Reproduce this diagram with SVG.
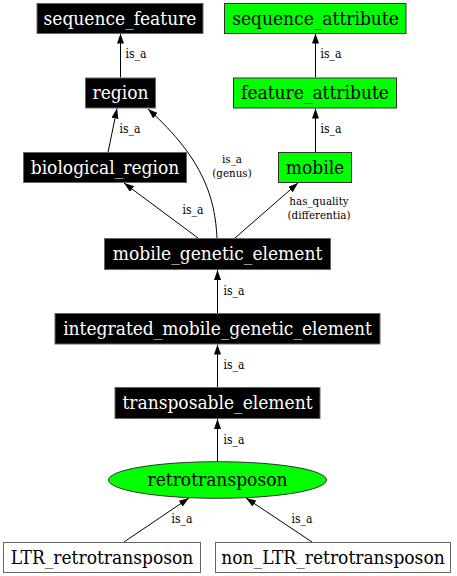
<svg xmlns="http://www.w3.org/2000/svg" width="457" height="576" viewBox="0 0 457 576">
<style>
.blk rect{fill:#000;stroke:#666;stroke-width:1}
.grn rect,.grn ellipse{fill:#00ff00;stroke:#333;stroke-width:1}
.wht rect{fill:#fff;stroke:#666;stroke-width:1}
.blk text{fill:#fff}
text{font-family:"DejaVu Serif Condensed","DejaVu Serif",serif;font-stretch:condensed;font-size:19px;text-anchor:middle}
.lbl{font-size:12px;fill:#000}
.lbl2{font-size:11.5px;fill:#000}
.edges path{fill:none;stroke:#000;stroke-width:1}
</style>
<defs>
<marker id="ah" viewBox="0 0 10 7" refX="10" refY="3.5" markerWidth="10" markerHeight="7" markerUnits="userSpaceOnUse" orient="auto">
<path d="M0,0 L10,3.5 L0,7 Z" fill="#000"/>
</marker>
</defs>
<rect width="457" height="576" fill="#fff"/>
<g class="edges">
<path d="M120.5,77.5 L120.5,33.5" marker-end="url(#ah)"/>
<path d="M315.5,77.5 L315.5,33.5" marker-end="url(#ah)"/>
<path d="M315.5,152.5 L315.5,108.5" marker-end="url(#ah)"/>
<path d="M108,152.5 L117,108.5" marker-end="url(#ah)"/>
<path d="M217,238 C215,200 205,160 148,109" marker-end="url(#ah)"/>
<path d="M198,238 L124,183" marker-end="url(#ah)"/>
<path d="M235,238 L298,183" marker-end="url(#ah)"/>
<path d="M217.5,313 L217.5,270" marker-end="url(#ah)"/>
<path d="M217.5,387 L217.5,344.5" marker-end="url(#ah)"/>
<path d="M217.5,461.5 L217.5,419" marker-end="url(#ah)"/>
<path d="M124,542 L189,498" marker-end="url(#ah)"/>
<path d="M312,542 L246,498" marker-end="url(#ah)"/>
<text class="lbl" x="136" y="58">is_a</text>
<text class="lbl" x="331" y="58">is_a</text>
<text class="lbl" x="331" y="133">is_a</text>
<text class="lbl" x="130" y="133">is_a</text>
<text class="lbl2" x="232" y="163">is_a</text>
<text class="lbl2" x="232" y="176.5">(genus)</text>
<text class="lbl" x="193" y="214">is_a</text>
<text class="lbl2" x="319" y="205">has_quality</text>
<text class="lbl2" x="319" y="218.5">(differentia)</text>
<text class="lbl" x="234" y="295">is_a</text>
<text class="lbl" x="234" y="369">is_a</text>
<text class="lbl" x="234" y="444">is_a</text>
<text class="lbl" x="182" y="523">is_a</text>
<text class="lbl" x="302" y="523">is_a</text>
</g>
<g id="sequence_feature" class="blk"><rect x="37" y="3.5" width="166" height="30"/><text x="120" y="24.5">sequence_feature</text></g>
<g id="sequence_attribute" class="grn"><rect x="224.5" y="3.5" width="181.5" height="30"/><text x="315.5" y="24.5">sequence_attribute</text></g>
<g id="region" class="blk"><rect x="85.5" y="78" width="70" height="30"/><text x="120.5" y="99">region</text></g>
<g id="feature_attribute" class="grn"><rect x="233.5" y="78" width="163" height="30"/><text x="315" y="99">feature_attribute</text></g>
<g id="biological_region" class="blk"><rect x="23.5" y="152.5" width="163" height="30"/><text x="105" y="173.5">biological_region</text></g>
<g id="mobile" class="grn"><rect x="278.5" y="152.5" width="73" height="30"/><text x="315" y="173.5">mobile</text></g>
<g id="mobile_genetic_element" class="blk"><rect x="104.5" y="238.5" width="226" height="31"/><text x="217.5" y="260">mobile_genetic_element</text></g>
<g id="integrated_mobile_genetic_element" class="blk"><rect x="55" y="313.5" width="325" height="30.5"/><text x="217.5" y="334.5">integrated_mobile_genetic_element</text></g>
<g id="transposable_element" class="blk"><rect x="115" y="387.5" width="205" height="31"/><text x="217.5" y="409">transposable_element</text></g>
<g id="retrotransposon" class="grn"><ellipse cx="217.5" cy="480" rx="109" ry="18.3"/><text x="217.5" y="486">retrotransposon</text></g>
<g id="LTR_retrotransposon" class="wht"><rect x="3.5" y="542.5" width="197" height="30"/><text x="102" y="563.5">LTR_retrotransposon</text></g>
<g id="non_LTR_retrotransposon" class="wht"><rect x="215.5" y="542.5" width="235" height="30"/><text x="333" y="563.5">non_LTR_retrotransposon</text></g>
</svg>
